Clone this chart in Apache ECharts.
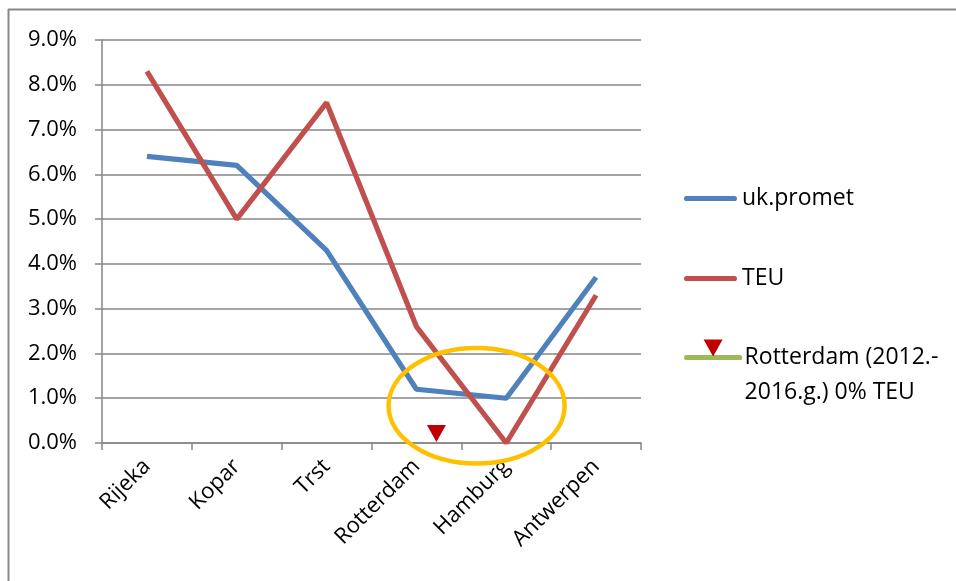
<!DOCTYPE html>
<html>
<head>
<meta charset="utf-8">
<script src="https://cdn.jsdelivr.net/npm/echarts@6/dist/echarts.min.js"></script>
<style>
html,body{margin:0;padding:0;background:#fff;}
#main{width:956px;height:581px;}
</style>
</head>
<body>
<div id="main"></div>
<script>
const categories = ['Rijeka', 'Kopar', 'Trst', 'Rotterdam', 'Hamburg', 'Antwerpen'];
const ukPromet = [6.4, 6.2, 4.3, 1.2, 1.0, 3.7];
const teu = [8.3, 5.0, 7.6, 2.6, 0.0, 3.3];
const rotterdamZero = [null, null, null, 0, null, null];
const yTicks = { min: 0, max: 9, interval: 1 };
const seriesNames = ['uk.promet', 'TEU', 'Rotterdam (2012.-\n2016.g.) 0% TEU'];

const FONT = 'Open Sans';
const LW = 5.2;
const chart = echarts.init(document.getElementById('main'), null, { renderer: 'canvas' });
const triPath = 'path://M8.5,0L27.5,0L18,17Z M0,0L0,0Z M36,36L36,36Z';
const barIcon = 'path://M2.6,19.9H50.4A2.6,2.6,0,0,1,50.4,25.1H2.6A2.6,2.6,0,0,1,2.6,19.9Z M0,0L0,0Z M53,45L53,45Z';

const legendBase = {
  orient: 'vertical',
  left: 684,
  padding: 0,
  itemWidth: 53,
  itemHeight: 45,
  itemGap: 35,
  lineStyle: { width: LW, cap: 'round' },
  textStyle: { color: '#000', fontFamily: FONT, fontSize: 23, lineHeight: 35 }
};

const option = {
  animation: false,
  backgroundColor: '#ffffff',
  grid: { left: 102, right: 315, top: 40, bottom: 138, containLabel: false },
  xAxis: {
    type: 'category',
    data: categories,
    boundaryGap: true,
    axisLine: { lineStyle: { color: '#868686', width: 1.5 } },
    axisTick: { show: true, length: 7, alignWithLabel: false, lineStyle: { color: '#868686', width: 1.5 } },
    axisLabel: { rotate: 45, margin: 20, color: '#000', fontFamily: FONT, fontSize: 22, interval: 0 },
    splitLine: { show: false }
  },
  yAxis: {
    type: 'value',
    min: yTicks.min, max: yTicks.max, interval: yTicks.interval,
    axisLine: { show: true, lineStyle: { color: '#868686', width: 1.5 } },
    axisTick: { show: true, length: 7, lineStyle: { color: '#868686', width: 1.5 } },
    axisLabel: { margin: 25, color: '#000', fontFamily: FONT, fontSize: 22, formatter: v => v.toFixed(1) + '%' },
    splitLine: { show: true, lineStyle: { color: '#868686', width: 1.5 } }
  },
  legend: [
    Object.assign({}, legendBase, {
      top: 176,
      data: [
        { name: seriesNames[0], icon: barIcon },
        { name: seriesNames[1], icon: barIcon }
      ]
    }),
    Object.assign({}, legendBase, {
      top: 305,
      formatter: name => '\n' + name,
      data: [ { name: seriesNames[2] } ]
    })
  ],
  series: [
    { name: seriesNames[0], type: 'line', data: ukPromet, symbol: 'none', lineStyle: { color: '#4F81BD', width: LW }, itemStyle: { color: '#4F81BD' } },
    { name: seriesNames[1], type: 'line', data: teu, symbol: 'none', lineStyle: { color: '#C0504D', width: LW }, itemStyle: { color: '#C0504D' } },
    { name: seriesNames[2], type: 'line', data: rotterdamZero, symbol: triPath, symbolSize: 36, symbolOffset: [20, 0], showSymbol: true,
      lineStyle: { color: '#9BBB59', width: LW, cap: 'round' }, itemStyle: { color: '#C00000' }, z: 3 }
  ]
};
chart.setOption(option);

// frame and annotation ellipse, ellipse positioned via axis scales
const pR = chart.convertToPixel({ gridIndex: 0 }, ['Rotterdam', 0]);
const pH = chart.convertToPixel({ gridIndex: 0 }, ['Hamburg', 0]);
const catW = pH[0] - pR[0];
const yC = chart.convertToPixel({ yAxisIndex: 0 }, 0.83);
const y0 = chart.convertToPixel({ yAxisIndex: 0 }, 0);
const y1 = chart.convertToPixel({ yAxisIndex: 0 }, 1.29);
chart.setOption({
  graphic: [
    { type: 'line', shape: { x1: 8, y1: 9.5, x2: 956, y2: 9.5 }, style: { stroke: '#888', lineWidth: 2 }, silent: true },
    { type: 'line', shape: { x1: 8.5, y1: 9, x2: 8.5, y2: 581 }, style: { stroke: '#888', lineWidth: 2 }, silent: true },
    { type: 'ellipse', z: 10, shape: { cx: pR[0] + 0.67 * catW, cy: yC, rx: 0.98 * catW, ry: y0 - y1 },
      style: { fill: 'none', stroke: '#FFC000', lineWidth: 4.5 }, silent: true }
  ]
});
</script>
</body>
</html>
